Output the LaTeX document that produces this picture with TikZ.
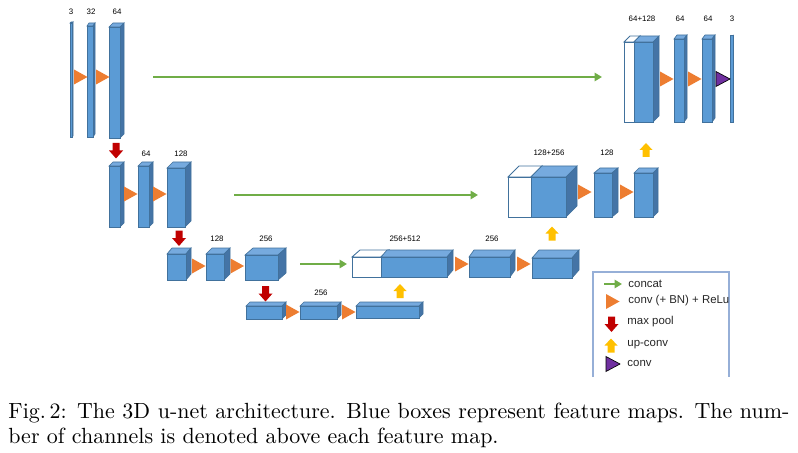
\documentclass[tikz,border=0pt]{standalone}
\usepackage{fontspec}
\usepackage{tikz}
\usetikzlibrary{arrows.meta}
\newfontfamily\diagfont{Liberation Sans}
\definecolor{boxblue}{RGB}{91,155,213}
\definecolor{boxside}{RGB}{68,116,166}
\definecolor{boxtop}{RGB}{118,170,222}
\definecolor{boxedge}{RGB}{65,113,156}
\definecolor{reluorange}{RGB}{237,125,49}
\definecolor{concatgreen}{RGB}{112,173,71}
\definecolor{poolred}{RGB}{192,0,0}
\definecolor{upyellow}{RGB}{255,192,0}
\definecolor{convpurple}{RGB}{112,48,160}
\definecolor{legframe}{RGB}{150,175,215}
% feature map: name, style, x1, x2, front top, bottom, depth x, depth y
\newcommand{\fmap}[8]{%
  \filldraw[#2top] (#3,#5) -- (#3+#7,#5-#8) -- (#4+#7,#5-#8) -- (#4,#5) -- cycle;
  \filldraw[#2side] (#4,#5) -- (#4+#7,#5-#8) -- (#4+#7,#6-#8) -- (#4,#6) -- cycle;
  \filldraw[#2front] (#3,#5) rectangle (#4,#6);
  \coordinate (#1) at ({(#3+#4)/2},{(#5+#6)/2});
}
\tikzset{
  fmfront/.style={fill=boxblue, draw=boxedge, line width=0.3pt},
  fmside/.style={fill=boxside, draw=boxedge, line width=0.3pt},
  fmtop/.style={fill=boxtop, draw=boxedge, line width=0.3pt},
  cpfront/.style={fill=white, draw=boxedge, line width=0.4pt},
  cpside/.style={fill=white, draw=boxedge, line width=0.4pt},
  cptop/.style={fill=white, draw=boxedge, line width=0.4pt},
  num/.style={font=\diagfont\fontsize{3.6}{4}\selectfont, inner sep=0pt},
  legtext/.style={anchor=west, inner sep=0pt, text=black!85, font=\diagfont\fontsize{5.2}{6}\selectfont},
  concat/.style={draw=concatgreen, line width=1.2pt, -{Triangle[length=3.4pt,width=3.8pt]}},
  pics/relu/.style={code={\fill[reluorange] (0,-7.5) -- (13.5,0) -- (0,7.5) -- cycle;}},
  pics/conv/.style={code={\filldraw[fill=convpurple, draw=black, line width=0.3pt] (0,-7.5) -- (14,0) -- (0,7.5) -- cycle;}},
  pics/maxpool/.style={code={\fill[poolred] (-3.5,-7.5) -- (3.5,-7.5) -- (3.5,0) -- (7,0) -- (0,8) -- (-7,0) -- (-3.5,0) -- cycle;}},
  pics/upconv/.style={code={\fill[upyellow] (-3.5,7) -- (3.5,7) -- (3.5,0) -- (6.5,0) -- (0,-7) -- (-6.5,0) -- (-3.5,0) -- cycle;}},
}

\begin{document}
\begin{tikzpicture}[x=0.016cm, y=-0.016cm]
	\useasboundingbox (0,0) rectangle (798,453);

	% level 1, analysis
	\fmap{e1a}{fm}{70}{72}{23}{137}{1}{1}
	\fmap{e1b}{fm}{87}{93}{26}{137}{2}{3}
	\fmap{e1c}{fm}{109}{120}{27}{138}{4}{4}
	\node[num] (n1a) at (71,12) {3};
	\node[num] (n1b) at (91,12) {32};
	\node[num] (n1c) at (117,12) {64};
	\pic at (74,77) {relu};
	\pic at (96,77) {relu};

	% level 1, synthesis
	\fmap{d1w}{cp}{624}{634}{42}{122}{6}{6}
	\fmap{d1c}{fm}{634}{653}{42}{122}{6}{6}
	\fmap{d1b}{fm}{674}{684}{39}{122}{3}{4}
	\fmap{d1a}{fm}{702}{712}{39}{122}{3}{4}
	\fmap{d1o}{fm}{730}{733}{35}{122}{0}{0}
	\node[num] (n1d) at (642,19) {64+128};
	\node[num] (n1e) at (680,19) {64};
	\node[num] (n1f) at (708,19) {64};
	\node[num] (n1g) at (732,19) {3};
	\pic at (660,79) {relu};
	\pic at (688,79) {relu};
	\pic at (716,79) {conv};

	\coordinate (skip1a) at (153,77);
	\coordinate (skip1b) at (602,77);
	\draw[concat] (skip1a) -- (skip1b);

	% level 2, analysis
	\pic at (116,150.5) {maxpool};
	\fmap{e2a}{fm}{109}{120}{166}{227}{4}{4}
	\fmap{e2b}{fm}{138}{149}{166}{227}{4}{4}
	\fmap{e2c}{fm}{167}{185}{168}{227}{6}{6}
	\node[num] (n2b) at (146,154) {64};
	\node[num] (n2c) at (181,154) {128};
	\pic at (124,194) {relu};
	\pic at (153,194) {relu};

	% level 2, synthesis
	\fmap{d2w}{cp}{508}{531}{177}{217}{11}{11}
	\fmap{d2c}{fm}{531}{566}{177}{217}{11}{11}
	\fmap{d2b}{fm}{594}{612}{173}{217}{6}{5}
	\fmap{d2a}{fm}{634}{653}{173}{217}{5}{5}
	\node[num] (n2d) at (549,153) {128+256};
	\node[num] (n2e) at (607,153) {128};
	\pic at (578,192) {relu};
	\pic at (620,192) {relu};
	\pic at (646,150) {upconv};

	\coordinate (skip2a) at (234,195);
	\coordinate (skip2b) at (478,195);
	\draw[concat] (skip2a) -- (skip2b);

	% level 3, analysis
	\pic at (179,238) {maxpool};
	\fmap{e3a}{fm}{167}{186}{254}{280}{5}{6}
	\fmap{e3b}{fm}{206}{224}{254}{280}{6}{6}
	\fmap{e3c}{fm}{245}{278}{255}{280}{8}{7}
	\node[num] (n3b) at (217,239) {128};
	\node[num] (n3c) at (266,239) {256};
	\pic at (192,266) {relu};
	\pic at (230.5,266) {relu};

	% level 3, synthesis
	\fmap{d3w}{cp}{352}{381}{257}{277}{8}{7}
	\fmap{d3c}{fm}{381}{447}{257}{277}{6}{7}
	\fmap{d3b}{fm}{469}{510}{257}{277}{5}{7}
	\fmap{d3a}{fm}{532}{572}{258}{278}{7}{8}
	\node[num] (n3d) at (405,239) {256+512};
	\node[num] (n3e) at (492,239) {256};
	\pic at (455,264) {relu};
	\pic at (517,264) {relu};
	\pic at (552,233.5) {upconv};

	\coordinate (skip3a) at (300,264);
	\coordinate (skip3b) at (347,264);
	\draw[concat] (skip3a) -- (skip3b);

	% level 4
	\pic at (265.5,293.5) {maxpool};
	\fmap{b4a}{fm}{246}{282}{306}{319}{4}{4}
	\fmap{b4b}{fm}{300}{337}{306}{319}{4}{4}
	\fmap{b4c}{fm}{356}{419}{306}{318}{4}{4}
	\node[num] (n4b) at (321,293) {256};
	\pic at (286,312) {relu};
	\pic at (342,312) {relu};
	\pic at (400,291) {upconv};

	% legend
	\draw[legframe, line width=0.5pt] (593,377) -- (593,272) -- (729,272) -- (729,377);
	\coordinate (leg1a) at (604,284);
	\coordinate (leg1b) at (622,284);
	\draw[concat] (leg1a) -- (leg1b);
	\node[legtext] (lg1) at (628,283.5) {concat};
	\pic at (606,301.5) {relu};
	\node[legtext] (lg2) at (628,301) {conv (+ BN) + ReLu};
	\pic at (611.5,324) {maxpool};
	\node[legtext] (lg3) at (627,322) {max pool};
	\pic at (611,345.5) {upconv};
	\node[legtext] (lg4) at (627,345) {up-conv};
	\pic at (606,364) {conv};
	\node[legtext] (lg5) at (627,363) {conv};

	% caption
	\node[anchor=base west, inner sep=0pt] (cap1) at (8,418) {\makebox[12.5cm][s]{Fig.\,2: The 3D u-net architecture. Blue boxes represent feature maps. The num-}};
	\node[anchor=base west, inner sep=0pt] (cap2) at (8,443) {ber of channels is denoted above each feature map.};
\end{tikzpicture}
\end{document}
